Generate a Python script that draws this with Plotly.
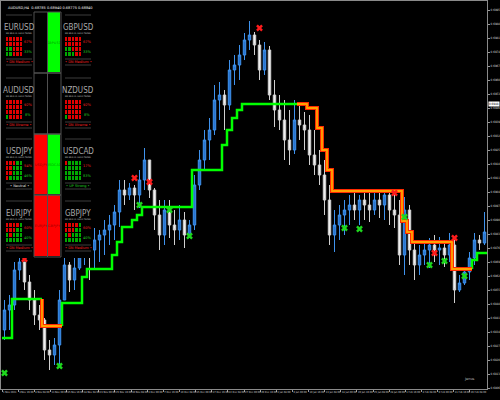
import plotly.graph_objects as go

# ---------------- data ----------------
x_labels = ["1 Nov 2021", "3 Nov 16:00", "8 Nov 08:00", "11 Nov 00:00", "15 Nov 16:00",
            "18 Nov 08:00", "23 Nov 00:00", "25 Nov 16:00", "30 Nov 08:00", "3 Dec 00:00",
            "7 Dec 16:00", "10 Dec 08:00", "15 Dec 00:00", "17 Dec 16:00", "22 Dec 08:00",
            "27 Dec 00:00", "29 Dec 16:00", "3 Jan 08:00", "6 Jan 00:00", "10 Jan 16:00",
            "13 Jan 08:00", "18 Jan 00:00", "20 Jan 16:00", "25 Jan 08:00", "28 Jan 00:00",
            "1 Feb 16:00", "4 Feb 08:00", "9 Feb 00:00", "11 Feb 16:00", "16 Feb 08:00"]

bar_open = [0.68350, 0.68450, 0.68475, 0.68650, 0.68690, 0.68590, 0.68500, 0.68425, 0.68400, 0.68250,
            0.68225, 0.68275, 0.68500, 0.68675, 0.68600, 0.68660, 0.68750, 0.68775, 0.68750, 0.68800,
            0.68825, 0.68850, 0.68875, 0.68940, 0.69050, 0.69025, 0.69060, 0.69025, 0.69100, 0.69200,
            0.69050, 0.68925, 0.68825, 0.68950, 0.68875, 0.68850, 0.68900, 0.68825, 0.68875, 0.69075,
            0.69200, 0.69300, 0.69350, 0.69500, 0.69525, 0.69475, 0.69650, 0.69675, 0.69725, 0.69800,
            0.69825, 0.69775, 0.69650, 0.69750, 0.69525, 0.69450, 0.69400, 0.69300, 0.69250, 0.69400,
            0.69375, 0.69350, 0.69225, 0.69175, 0.69125, 0.69000, 0.68825, 0.68875, 0.68925, 0.68950,
            0.68975, 0.68950, 0.69000, 0.68975, 0.68950, 0.69000, 0.68975, 0.69025, 0.68950, 0.68925,
            0.68725, 0.68950, 0.68750, 0.68675, 0.68725, 0.68750, 0.68775, 0.68750, 0.68760, 0.68725,
            0.68775, 0.68550, 0.68585, 0.68640, 0.68710, 0.68800, 0.68785]
bar_high = [0.68500, 0.68525, 0.68690, 0.68725, 0.68690, 0.68625, 0.68550, 0.68475, 0.68410, 0.68300,
            0.68310, 0.68550, 0.68725, 0.68690, 0.68710, 0.68800, 0.68850, 0.68800, 0.68860, 0.68850,
            0.68900, 0.68925, 0.68975, 0.69100, 0.69100, 0.69085, 0.69075, 0.69150, 0.69260, 0.69200,
            0.69060, 0.69000, 0.69000, 0.69000, 0.68950, 0.68975, 0.68940, 0.68900, 0.69125, 0.69250,
            0.69350, 0.69410, 0.69575, 0.69590, 0.69550, 0.69700, 0.69725, 0.69775, 0.69835, 0.69895,
            0.69840, 0.69800, 0.69790, 0.69770, 0.69600, 0.69525, 0.69500, 0.69450, 0.69500, 0.69475,
            0.69440, 0.69425, 0.69350, 0.69250, 0.69200, 0.69075, 0.68950, 0.68975, 0.69000, 0.69025,
            0.69035, 0.69025, 0.69040, 0.69040, 0.69035, 0.69040, 0.69040, 0.69050, 0.69035, 0.69000,
            0.69015, 0.68975, 0.68800, 0.68775, 0.68800, 0.68810, 0.68825, 0.68815, 0.68800, 0.68835,
            0.68800, 0.68625, 0.68660, 0.68740, 0.68835, 0.68825, 0.68940]
bar_low = [0.68300, 0.68350, 0.68450, 0.68600, 0.68550, 0.68450, 0.68375, 0.68350, 0.68200, 0.68150,
           0.68175, 0.68175, 0.68500, 0.68540, 0.68550, 0.68650, 0.68675, 0.68600, 0.68660, 0.68690,
           0.68725, 0.68775, 0.68800, 0.68865, 0.68975, 0.69000, 0.68950, 0.68960, 0.69050, 0.69010,
           0.68850, 0.68750, 0.68775, 0.68810, 0.68775, 0.68800, 0.68760, 0.68810, 0.68850, 0.69050,
           0.69150, 0.69200, 0.69325, 0.69400, 0.69350, 0.69450, 0.69575, 0.69600, 0.69700, 0.69750,
           0.69725, 0.69600, 0.69625, 0.69500, 0.69365, 0.69350, 0.69200, 0.69175, 0.69230, 0.69300,
           0.69250, 0.69175, 0.69125, 0.69075, 0.68925, 0.68775, 0.68740, 0.68800, 0.68825, 0.68875,
           0.68900, 0.68875, 0.68900, 0.68890, 0.68925, 0.68910, 0.68900, 0.68875, 0.68860, 0.68675,
           0.68625, 0.68675, 0.68600, 0.68625, 0.68675, 0.68660, 0.68690, 0.68675, 0.68665, 0.68690,
           0.68485, 0.68540, 0.68575, 0.68600, 0.68675, 0.68750, 0.68775]
bar_close = [0.68450, 0.68475, 0.68650, 0.68690, 0.68590, 0.68500, 0.68425, 0.68400, 0.68250, 0.68225,
             0.68275, 0.68500, 0.68675, 0.68600, 0.68660, 0.68750, 0.68775, 0.68750, 0.68800, 0.68825,
             0.68850, 0.68875, 0.68940, 0.69050, 0.69025, 0.69060, 0.69025, 0.69100, 0.69200, 0.69050,
             0.68925, 0.68825, 0.68950, 0.68875, 0.68850, 0.68900, 0.68825, 0.68875, 0.69075, 0.69200,
             0.69300, 0.69350, 0.69500, 0.69525, 0.69475, 0.69650, 0.69675, 0.69725, 0.69800, 0.69825,
             0.69775, 0.69650, 0.69750, 0.69525, 0.69450, 0.69400, 0.69300, 0.69250, 0.69400, 0.69375,
             0.69350, 0.69225, 0.69175, 0.69125, 0.69000, 0.68825, 0.68875, 0.68925, 0.68950, 0.68975,
             0.68950, 0.69000, 0.68975, 0.68950, 0.69000, 0.68975, 0.69025, 0.68950, 0.68925, 0.68725,
             0.68950, 0.68750, 0.68675, 0.68725, 0.68750, 0.68775, 0.68750, 0.68760, 0.68725, 0.68775,
             0.68550, 0.68585, 0.68640, 0.68710, 0.68800, 0.68785, 0.68840]

# trailing step line (level and direction per bar)
step_level = [0.68310, 0.68310, 0.68505, 0.68505, 0.68505, 0.68505, 0.68505, 0.68505, 0.68370, 0.68370,
              0.68370, 0.68370, 0.68485, 0.68485, 0.68485, 0.68485, 0.68615, 0.68655, 0.68655, 0.68655,
              0.68655, 0.68655, 0.68725, 0.68790, 0.68865, 0.68865, 0.68900, 0.68925, 0.68965, 0.68965,
              0.68965, 0.68965, 0.68965, 0.68965, 0.68965, 0.68965, 0.68965, 0.68965, 0.69150, 0.69150,
              0.69150, 0.69150, 0.69150, 0.69150, 0.69275, 0.69350, 0.69410, 0.69450, 0.69480, 0.69480,
              0.69480, 0.69480, 0.69480, 0.69480, 0.69480, 0.69480, 0.69480, 0.69480, 0.69480, 0.69480,
              0.69480, 0.69460, 0.69460, 0.69360, 0.69250, 0.69150, 0.69045, 0.69045, 0.69045, 0.69045,
              0.69045, 0.69045, 0.69045, 0.69045, 0.69045, 0.69045, 0.69045, 0.69045, 0.69045, 0.69045,
              0.68895, 0.68840, 0.68790, 0.68790, 0.68790, 0.68790, 0.68790, 0.68790, 0.68790, 0.68790,
              0.68655, 0.68655, 0.68655, 0.68655, 0.68700, 0.68735, 0.68735]
step_trend = ("UUUUUUUU" + "DDDD"
              + "UUUUUUUUUU" + "UUUUUUUUUU" + "UUUUUUUUUU" + "UUUUUUUUUU" + "UUUUUUU"
              + "DDDDDDDDDD" + "DDDDDDDDDD" + "DDDDDDDDDD" + "DDDDD"
              + "UUU")

red_x_bar = [4, 26, 29, 51, 78, 86, 90]
red_x_price = [0.68705, 0.69110, 0.69090, 0.69860, 0.69035, 0.68735, 0.68810]
green_x_bar = [0, 11, 27, 33, 37, 68, 71, 80, 85, 88, 92]
green_x_price = [0.68135, 0.68170, 0.68975, 0.68950, 0.68820, 0.68860, 0.68855, 0.68915,
                 0.68675, 0.68695, 0.68620]

marker_price = 0.6948

# currency strength panel
pairs = ["EURUSD", "GBPUSD", "AUDUSD", "NZDUSD", "USDJPY", "USDCAD", "EURJPY", "GBPJPY"]
dn_pct = [67, 67, 92, 92, 54, 17, 60, 60]
up_pct = [33, 33, 8, 8, 46, 83, 40, 40]
status = ["DN Medium", "DN Medium", "DN Xtreme", "DN Xtreme", "Neutral", "UP Strong",
          "DN Medium", "DN Medium"]
pair_grids = [
    [[0, 0, 0, 0, 0], [0, 0, 0, 0, 0], [1, 1, 0, 0, 0], [1, 1, 0, 0, 0]],
    [[0, 0, 0, 0, 0], [0, 0, 0, 0, 0], [1, 1, 0, 0, 0], [1, 1, 1, 0, 0]],
    [[0, 0, 0, 0, 0], [0, 0, 0, 0, 0], [0, 0, 0, 0, 0], [1, 0, 0, 0, 0]],
    [[0, 0, 0, 0, 0], [0, 0, 0, 0, 0], [0, 0, 0, 0, 0], [1, 0, 0, 0, 0]],
    [[0, 0, 0, 1, 1], [0, 0, 1, 1, 1], [0, 0, 1, 1, 1], [0, 1, 1, 1, 1]],
    [[0, 1, 1, 1, 1], [1, 1, 1, 1, 1], [1, 1, 1, 1, 1], [1, 1, 1, 1, 1]],
    [[0, 0, 0, 0, 1], [0, 0, 0, 1, 1], [1, 0, 1, 1, 1], [1, 1, 1, 1, 1]],
    [[0, 0, 0, 0, 1], [0, 0, 0, 1, 1], [1, 0, 1, 1, 1], [1, 1, 1, 1, 1]],
]
strength_z = [[0, 1], [0, 0], [-1, 1], [-1, -1]]
strength_text = [["", "GBPUSD"], ["", ""], ["USDJPY", "USDCAD"], ["EURJPY", "GBPJPY"]]

# ---------------- layout helpers ----------------
W, H = 500, 400
ML, MR, MT, MB = 1, 13, 1, 11
PW, PH = W - ML - MR, H - MT - MB
NARROW = "Liberation Sans Narrow, Arial Narrow, DejaVu Sans Condensed, sans-serif"


def px2x(p):
    return (p - ML) / PW


def py2y(p):
    return (H - MB - p) / PH


n = len(bar_close)
idx = list(range(n))

fig = go.Figure()

fig.add_trace(go.Candlestick(
    x=idx, open=bar_open, high=bar_high, low=bar_low, close=bar_close,
    increasing=dict(line=dict(color="#3f93ee", width=1), fillcolor="#2874d0"),
    decreasing=dict(line=dict(color="#d0d0d0", width=1), fillcolor="#f0f0f0"),
    whiskerwidth=0, showlegend=False, hoverinfo="skip"))

# build coloured step segments
segs = {"U": ([], []), "D": ([], [])}
i = 0
while i < n:
    j = i
    while j + 1 < n and step_trend[j + 1] == step_trend[i]:
        j += 1
    xs, ys = segs[step_trend[i]]
    if i > 0:
        xs.append(i - 0.5)
        ys.append(step_level[i - 1])
    for k in range(i, j + 1):
        xs.append(k - 0.5)
        ys.append(step_level[k])
    xs.append(j + 0.5)
    ys.append(step_level[j])
    xs.append(None)
    ys.append(None)
    i = j + 1

fig.add_trace(go.Scatter(x=segs["U"][0], y=segs["U"][1], mode="lines", line_shape="hv",
                         line=dict(color="#00ff00", width=2.5), showlegend=False, hoverinfo="skip"))
fig.add_trace(go.Scatter(x=segs["D"][0], y=segs["D"][1], mode="lines", line_shape="hv",
                         line=dict(color="#ff2a00", width=4), showlegend=False, hoverinfo="skip"))
fig.add_trace(go.Scatter(x=segs["D"][0], y=segs["D"][1], mode="lines", line_shape="hv",
                         line=dict(color="#ffa200", width=1.8), showlegend=False, hoverinfo="skip"))

fig.add_trace(go.Scatter(x=red_x_bar, y=red_x_price, mode="markers",
                         marker=dict(symbol="x", size=6, color="#ff1c1c", line=dict(width=0)),
                         showlegend=False, hoverinfo="skip"))
fig.add_trace(go.Scatter(x=green_x_bar, y=green_x_price, mode="markers",
                         marker=dict(symbol="x", size=6, color="#1ed81e", line=dict(width=0)),
                         showlegend=False, hoverinfo="skip"))

# ---------------- panel (own subplot, opaque) ----------------
PX0, PX1, PY0, PY1 = 1, 93, 9, 258
col_x0 = [6, 65]
row_off = [0, 63, 124, 186]

cx = [34, 47.5, 61]
cy = [12, 73, 134, 195, 257]
fig.add_trace(go.Heatmap(
    x=cx, y=cy, z=strength_z, text=strength_text, texttemplate="%{text}",
    textfont=dict(size=3.5, color="rgba(0,0,0,0.45)", family="DejaVu Sans"),
    colorscale=[[0, "#ff0000"], [0.5, "#000000"], [1, "#00ff00"]], zmin=-1, zmax=1,
    showscale=False, xgap=1, ygap=1, xaxis="x2", yaxis="y2", hoverinfo="skip"))

shapes = []
for r in range(4):
    for c in range(2):
        shapes.append(dict(type="rect", xref="x2", yref="y2", x0=cx[c], x1=cx[c + 1],
                           y0=cy[r], y1=cy[r + 1], line=dict(color="#505050", width=1)))

annotations = []
for p, name in enumerate(pairs):
    col = p % 2
    off = row_off[p // 2]
    x0 = col_x0[col]
    gx = [x0 + k * 17 / 5 for k in range(6)]
    gy = [37 + off + k * 5 for k in range(5)]
    fig.add_trace(go.Heatmap(
        x=gx, y=gy, z=pair_grids[p], colorscale=[[0, "#e00000"], [1, "#00a800"]],
        zmin=0, zmax=1, showscale=False, xgap=1, ygap=1, xaxis="x2", yaxis="y2",
        hoverinfo="skip"))
    for yy in (15, 59, 65):
        shapes.append(dict(type="line", xref="x2", yref="y2", x0=x0, x1=x0 + 26,
                           y0=yy + off, y1=yy + off, line=dict(color="#3c3c3c", width=1)))
    annotations.append(dict(xref="x2", yref="y2", x=x0 + 13, y=27.5 + off, text=name,
                            showarrow=False, font=dict(size=8, color="#a8a8a8", family=NARROW)))
    annotations.append(dict(xref="x2", yref="y2", x=x0 + 13, y=33.5 + off,
                            text="M5 M15 H1 H4 D1 TREND", showarrow=False,
                            font=dict(size=2, color="#cfcfcf")))
    annotations.append(dict(xref="x2", yref="y2", x=x0 + 22, y=42 + off, xanchor="center",
                            text=f"{dn_pct[p]}%", showarrow=False,
                            font=dict(size=3.5, color="#ff2020")))
    annotations.append(dict(xref="x2", yref="y2", x=x0 + 22, y=52 + off, xanchor="center",
                            text=f"{up_pct[p]}%", showarrow=False,
                            font=dict(size=3.5, color="#20d020")))
    scol = "#ff2020" if status[p].startswith("DN") else ("#20d020" if status[p].startswith("UP") else "#e0e0e0")
    annotations.append(dict(xref="x2", yref="y2", x=x0 + 13, y=62 + off,
                            text=f"\u2022 {status[p]} \u2022", showarrow=False,
                            font=dict(size=3.5, color=scol)))

# main chart texts
lo, lh, ll, lc = bar_open[-1], bar_high[-1], bar_low[-1], bar_close[-1]
annotations.append(dict(xref="paper", yref="paper", x=px2x(6), y=py2y(4.5), xanchor="left",
                        text=f"AUDUSD,H4  {lo:.5f} {lh:.5f} {ll:.5f} {lc:.5f}", showarrow=False,
                        font=dict(size=3.5, color="#ffffff")))
annotations.append(dict(xref="paper", yref="y", x=1, y=marker_price, xanchor="left",
                        text=f"{marker_price:.4f}", showarrow=False, bgcolor="#ffffff",
                        borderpad=0, xshift=1, font=dict(size=3, color="#000000", family=NARROW)))
annotations.append(dict(xref="paper", yref="paper", x=px2x(477), y=py2y(383),
                        text="Jenus", showarrow=False, font=dict(size=3.5, color="#bdbdbd")))

tick_step = (n - 0.2) / len(x_labels)
fig.update_layout(
    width=W, height=H, margin=dict(l=ML, r=MR, t=MT, b=MB),
    paper_bgcolor="#000000", plot_bgcolor="#000000", showlegend=False,
    font=dict(family="DejaVu Sans, sans-serif", color="#d0d0d0"),
    xaxis=dict(range=[-0.7, n - 0.5], domain=[0, 1], rangeslider=dict(visible=False),
               tickvals=[-0.5 + k * tick_step for k in range(len(x_labels))],
               ticktext=x_labels, ticklabelposition="outside right",
               ticks="outside", ticklen=2, tickcolor="#9a9a9a", tickangle=0,
               tickfont=dict(size=2.6, color="#d8d8d8", family=NARROW),
               showgrid=False, zeroline=False,
               showline=True, mirror=True, linecolor="#8a8a8a", linewidth=1, automargin=False),
    yaxis=dict(range=[0.68055, 0.69995], side="right", tick0=0.6806, dtick=0.0007,
               tickformat=".4f", ticks="outside", ticklen=2, tickcolor="#9a9a9a",
               tickfont=dict(size=3, color="#d8d8d8", family=NARROW), showgrid=False,
               zeroline=False, showline=True, mirror=True, linecolor="#8a8a8a", linewidth=1,
               automargin=False),
    xaxis2=dict(domain=[px2x(PX0), px2x(PX1)], range=[PX0, PX1], anchor="y2", visible=False,
                fixedrange=True),
    yaxis2=dict(domain=[py2y(PY1), py2y(PY0)], range=[PY1, PY0], anchor="x2", visible=False,
                fixedrange=True),
    shapes=shapes, annotations=annotations,
)

fig.write_html("out.html", config={"displayModeBar": False},
               post_script="document.body.style.margin='0';document.body.style.overflow='hidden';")
